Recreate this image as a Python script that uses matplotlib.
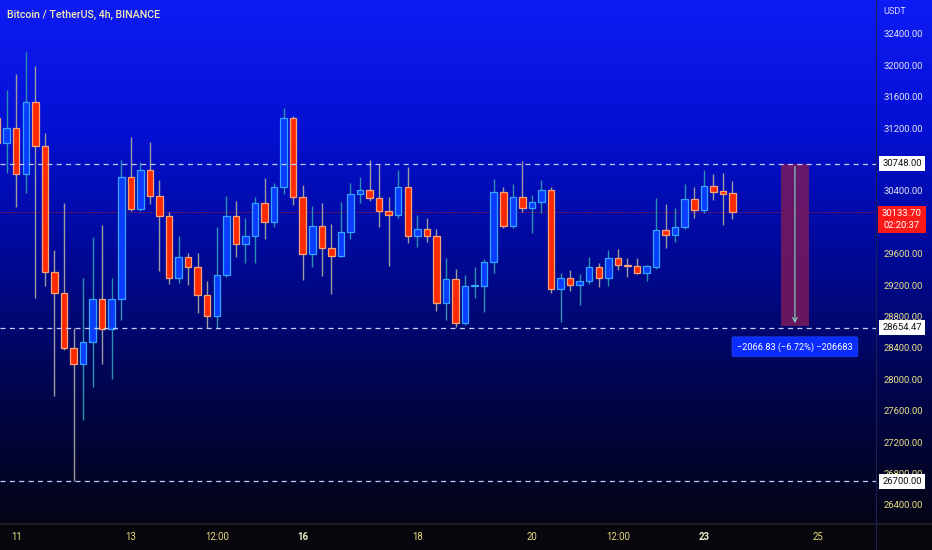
import numpy as np
import matplotlib
matplotlib.use("Agg")
import matplotlib.pyplot as plt
from matplotlib.patches import Rectangle
import matplotlib.transforms as mtransforms

# 4h BTC/USDT candles, index -1 .. 76 (index 1 = 11th 00:00)
candle_idx = list(range(-1, 77))
opens = [31330, 31011, 31203, 30616, 31534, 30973, 29368, 29100, 28398, 28196,
         28476, 29024, 28642, 29024, 30578, 30171, 30667, 30336, 30081, 29291,
         29559, 29432, 29075, 28807, 29330, 30081, 29725, 29827, 30247, 30005,
         30451, 31330, 30323, 29597, 29954, 29674, 29572, 29878, 30362, 30413,
         30311, 30145, 30094, 30451, 29827, 29916, 29827, 28973, 29279, 28718,
         29190, 29190, 29495, 30387, 29954, 30323, 30183, 30260, 30413, 29151,
         29291, 29202, 29253, 29432, 29291, 29546, 29457, 29444, 29355, 29432,
         29903, 29839, 29941, 30298, 30158, 30464, 30400, 30374]
highs = [31457, 31687, 31890, 32171, 31992, 31139, 29648, 30247, 28654, 29291,
         29814, 29967, 29291, 30795, 31088, 30769, 31024, 30540, 30132, 29827,
         29610, 29610, 29253, 29941, 30336, 30272, 30056, 30323, 30565, 30502,
         31457, 31360, 30476, 30209, 30247, 29979, 30260, 30502, 30578, 30795,
         30744, 30323, 30667, 30706, 30094, 30056, 29916, 29546, 29406, 29330,
         29432, 29533, 30553, 30451, 30489, 30782, 30349, 30540, 30451, 29355,
         29393, 29342, 29559, 29483, 29648, 29661, 29546, 29546, 29457, 30311,
         30234, 30183, 30489, 30451, 30667, 30616, 30629, 30527]
lows = [30922, 30629, 30196, 30374, 29037, 29190, 27788, 28374, 26700, 27482,
        27903, 28196, 28005, 28756, 30150, 30150, 30234, 29381, 29215, 29228,
        29202, 28846, 28654, 28642, 29304, 29559, 29483, 29483, 29788, 29941,
        30362, 30221, 29266, 29432, 29317, 29088, 29559, 29788, 30247, 30272,
        29941, 29444, 30056, 29737, 29686, 29750, 28871, 28756, 28667, 28693,
        29037, 28858, 29355, 29930, 29930, 30132, 29865, 30120, 29100, 28731,
        29126, 28948, 29215, 29177, 29190, 29393, 29304, 29342, 29253, 29400,
        29674, 29750, 29916, 30056, 30120, 30285, 29967, 30043]
closes = [31011, 31203, 30616, 31534, 30973, 29368, 29100, 28398, 28196, 28476,
          29024, 28642, 29024, 30578, 30171, 30667, 30336, 30081, 29291, 29559,
          29432, 29075, 28807, 29330, 30081, 29725, 29827, 30247, 30005, 30451,
          31330, 30323, 29597, 29954, 29674, 29572, 29878, 30362, 30413, 30311,
          30145, 30094, 30451, 29827, 29916, 29827, 28973, 29279, 28718, 29190,
          29202, 29495, 30387, 29954, 30323, 30183, 30260, 30413, 29151, 29291,
          29202, 29253, 29432, 29291, 29546, 29457, 29444, 29355, 29444, 29903,
          29839, 29941, 30298, 30158, 30464, 30387, 30362, 30133.7]

level_lines = [30748.00, 28654.47, 26700.00]
last_price = 30133.70
countdown = "02:20:37"
# 30800 and 30000 sit fully under the level / price boxes, so they are not shown
y_ticks = [26400, 26800, 27200, 27600, 28000, 28400, 28800, 29200, 29600,
           30400, 31200, 31600, 32000, 32400]
x_tick_pos = [1, 13, 22, 31, 43, 55, 64, 73, 85]
x_tick_labels = ["11", "13", "12:00", "16", "18", "20", "12:00", "23", "25"]
measure_x = (81.08, 84.0)
measure_top = 30748.00
measure_change = -2066.83
measure_text = "\u22122066.83 (\u22126.72%) \u2212206683"

W, H, DPI = 932, 550, 100
fig = plt.figure(figsize=(W / DPI, H / DPI), dpi=DPI)
plt.rcParams['font.family'] = ['Roboto', 'DejaVu Sans']

# background gradient (blue -> black)
bg = fig.add_axes([0, 0, 1, 1], zorder=0)
rows = np.arange(H)
stops = [0, 130, 260, 390, 524]
r = np.interp(rows, stops, [14, 4, 0, 0, 4])
g = np.interp(rows, stops, [28, 16, 9, 5, 4])
b = np.interp(rows, stops, [245, 210, 148, 76, 20])
grad = np.stack([r, g, b], axis=1) / 255.0
grad[524:] = np.array([6, 6, 12]) / 255.0
img = np.repeat(grad[:, None, :], 4, axis=1)
bg.imshow(img, aspect='auto', extent=[0, 1, 0, 1])
bg.axhline(1 - 524 / H, color='#23232e', lw=1.2)
bg.axvline(876 / W, color='#1c1f55', lw=0.8)
bg.set_axis_off()

ax = fig.add_axes([0, 26 / H, 876 / W, 524 / H], zorder=1)
ax.patch.set_alpha(0)
ax.set_xlim(-0.70, 91.03)
ax.set_ylim(26157, 32833)

for sp in ax.spines.values():
    sp.set_visible(False)

o = np.array(opens, dtype=float)
c = np.array(closes, dtype=float)
hi = np.array(highs, dtype=float)
lo = np.array(lows, dtype=float)
xs = np.array(candle_idx)
up = c >= o

ax.vlines(xs[up], lo[up], hi[up], color='#2a8fb0', lw=1.0, zorder=2)
ax.vlines(xs[~up], lo[~up], hi[~up], color='#9d9aa0', lw=1.0, zorder=2)
body_lo = np.minimum(o, c)
body_h = np.maximum(np.abs(c - o), 8)
ax.bar(xs[up], body_h[up], bottom=body_lo[up], width=0.68, color='#0a3cff',
       edgecolor='#35a4ff', linewidth=0.9, zorder=3)
ax.bar(xs[~up], body_h[~up], bottom=body_lo[~up], width=0.68, color='#ff2a00',
       edgecolor='#f6a47a', linewidth=0.9, zorder=3)

# horizontal levels
for lv in level_lines:
    ax.axhline(lv, color='#c8ccff', lw=0.9, ls=(0, (4, 3.5)), zorder=4)
ax.axhline(last_price, color='#c01a1a', lw=0.7, ls=(0, (1, 1.5)), zorder=1.5)

# measurement box
bot = measure_top + measure_change
ax.add_patch(Rectangle((measure_x[0], bot), measure_x[1] - measure_x[0],
                       measure_top - bot, facecolor='#7a1a5a', alpha=0.85,
                       edgecolor='none', zorder=2))
mid_x = (measure_x[0] + measure_x[1]) / 2
ax.annotate('', xy=(mid_x, bot), xytext=(mid_x, measure_top),
            arrowprops=dict(arrowstyle='->', color='#86d8c8', lw=0.8,
                            mutation_scale=8), zorder=5)
ax.annotate(measure_text, xy=(mid_x, bot), xytext=(0, -15),
            textcoords='offset points', ha='center', va='center',
            fontsize=6.6, color='white', zorder=6,
            bbox=dict(boxstyle='round,pad=0.55,rounding_size=0.15',
                      fc='#0a2cff', ec='#1e46ff', lw=0.5))

# price axis
ax.yaxis.tick_right()
ax.set_yticks(y_ticks)
ax.set_yticklabels(["%.2f" % v for v in y_ticks])
ax.tick_params(axis='y', length=0, pad=5.8, labelsize=6.8)
for v, lab in zip(y_ticks, ax.get_yticklabels()):
    lab.set_color('#e4e4f2' if v > 30000 else '#ebe184')

ax.set_xticks(x_tick_pos)
ax.set_xticklabels(x_tick_labels)
ax.tick_params(axis='x', length=0, pad=6.0, labelsize=6.9, colors='#e6dc7a')
for lab, t in zip(ax.get_xticklabels(), x_tick_labels):
    if t in ("16", "23"):
        lab.set_fontweight('bold')
        lab.set_color('#f0ecc8')

trans = mtransforms.blended_transform_factory(ax.transAxes, ax.transData)
for lv in level_lines:
    ax.text(902 / 876, lv, "%.2f" % lv, transform=trans, ha='center',
            va='center', fontsize=6.8, color='#111111', zorder=7, clip_on=False,
            bbox=dict(boxstyle='square,pad=0.32', fc='white', ec='none'))
ax.annotate("%.2f\n%s" % (last_price, countdown), xy=(902 / 876, last_price),
            xycoords=trans, xytext=(0, -5.5), textcoords='offset points',
            ha='center', va='center', fontsize=6.8, color='white',
            linespacing=1.3, zorder=7, annotation_clip=False,
            bbox=dict(boxstyle='square,pad=0.4', fc='#ff1a1a', ec='none'))

fig.text(883 / W, 1 - 12 / H, "USDT", fontsize=6.6, color='#d8dcff',
         va='center', ha='left')
fig.text(7 / W, 1 - 15 / H, "Bitcoin / TetherUS, 4h, BINANCE", fontsize=7.7,
         color='#f3ebb0', va='center', ha='left', fontweight='medium')

fig.savefig("out.png", dpi=DPI)
